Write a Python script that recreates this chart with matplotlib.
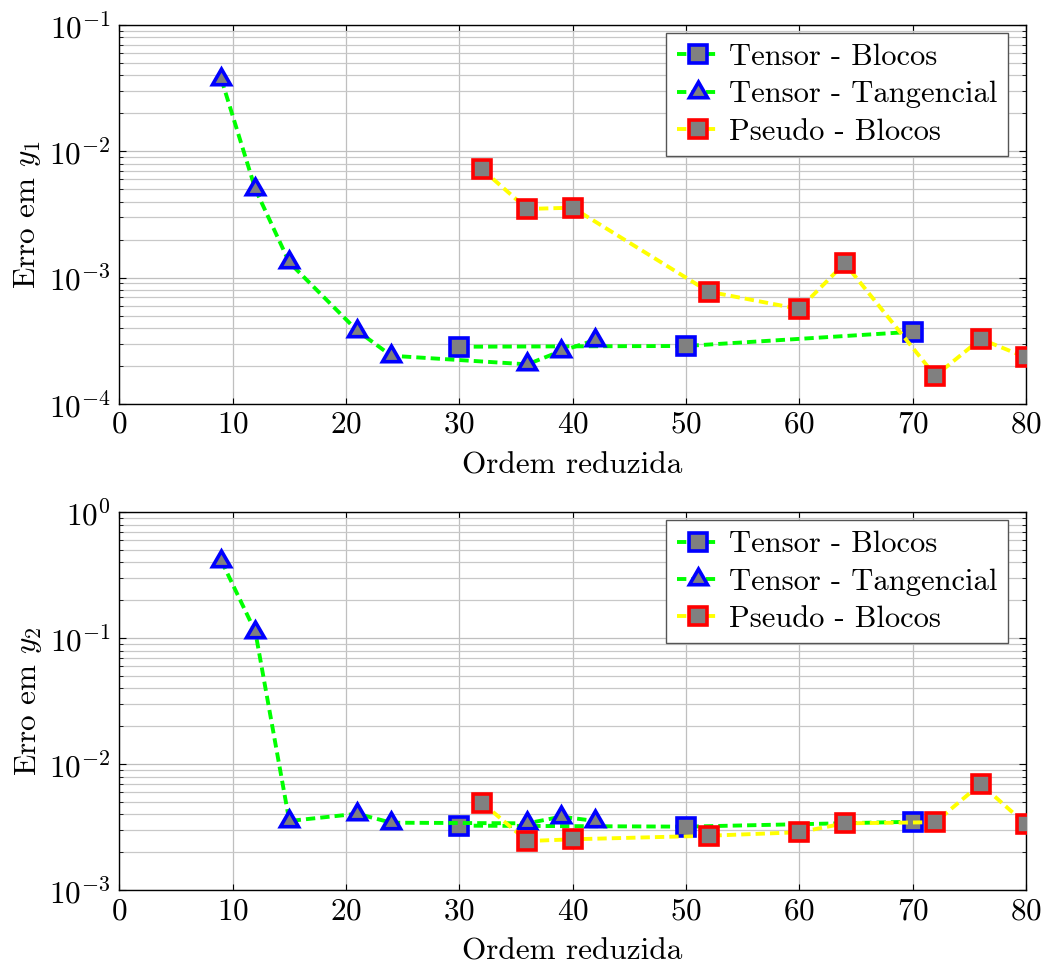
import matplotlib
matplotlib.use("Agg")
import matplotlib.pyplot as plt
import numpy as np

plt.rcParams['font.family'] = 'serif'
plt.rcParams['font.serif'] = ['cmr10', 'DejaVu Serif']
plt.rcParams['mathtext.fontset'] = 'cm'
plt.rcParams['axes.formatter.use_mathtext'] = True
plt.rcParams['axes.unicode_minus'] = False

# ---- data ----
tb_x = [30, 50, 70]
tb_y1 = [2.84e-4, 2.88e-4, 3.73e-4]
tb_y2 = [3.26e-3, 3.20e-3, 3.50e-3]

tt_x = [9, 12, 15, 21, 24, 36, 39, 42]
tt_y1 = [3.74e-2, 5.03e-3, 1.32e-3, 3.8e-4, 2.41e-4, 2.06e-4, 2.63e-4, 3.21e-4]
tt_y2 = [0.413, 0.113, 3.55e-3, 4.05e-3, 3.44e-3, 3.40e-3, 3.84e-3, 3.55e-3]

pb_x = [32, 36, 40, 52, 60, 64, 72, 76, 80]
pb_y1 = [7.21e-3, 3.50e-3, 3.58e-3, 7.75e-4, 5.65e-4, 1.30e-3, 1.67e-4, 3.27e-4, 2.34e-4]
pb_y2 = [4.96e-3, 2.46e-3, 2.54e-3, 2.71e-3, 2.89e-3, 3.40e-3, 3.47e-3, 6.98e-3, 3.34e-3]

labels = ['Tensor - Blocos', 'Tensor - Tangencial', 'Pseudo - Blocos']
xlabel = 'Ordem reduzida'
ylabels = [r'Erro em $y_1$', r'Erro em $y_2$']
ylims = [(1e-4, 1e-1), (1e-3, 1e0)]

fig = plt.figure(figsize=(10.44, 9.67), dpi=100)
left, width = 119.3 / 1044, (1026 - 119.3) / 1044
ax1 = fig.add_axes([left, 1 - 404 / 967, width, (404 - 25) / 967])
ax2 = fig.add_axes([left, 1 - 890.3 / 967, width, (890.3 - 512.3) / 967])

lw = 2.8
dash = (0, (2.4, 1.3))
fs = 22.5
lfs = 22

for ax, tby, tty, pby, yl, lim in [(ax1, tb_y1, tt_y1, pb_y1, ylabels[0], ylims[0]),
                                    (ax2, tb_y2, tt_y2, pb_y2, ylabels[1], ylims[1])]:
    ax.set_yscale('log')
    ax.plot(tb_x, tby, linestyle=dash, color='#00ff00', lw=lw, marker='s', ms=13,
            mfc='#808080', mec='#0000ff', mew=2.6, label=labels[0], zorder=3)
    ax.plot(tt_x, tty, linestyle=dash, color='#00ff00', lw=lw, marker=(3, 0, 0), ms=15,
            mfc='#808080', mec='#0000ff', mew=2.6, label=labels[1], zorder=3)
    ax.plot(pb_x, pby, linestyle=dash, color='#ffff00', lw=lw, marker='s', ms=13,
            mfc='#808080', mec='#ff0000', mew=2.6, label=labels[2], zorder=3)
    ax.set_xlim(0, 80)
    ax.set_ylim(*lim)
    ax.set_xticks(np.arange(0, 81, 10))
    ax.grid(True, which='major', color='#bfbfbf', lw=0.9)
    ax.grid(True, which='minor', axis='y', color='#c8c8c8', lw=0.9)
    ax.set_axisbelow(True)
    ax.tick_params(which='both', direction='in', top=True, right=True, labelsize=fs)
    ax.tick_params(which='major', length=5, width=0.8)
    ax.tick_params(which='minor', length=3, width=0.6)
    ax.tick_params(axis='x', which='major', length=4, pad=5)
    ax.tick_params(axis='y', which='major', pad=6)
    ax.set_xlabel(xlabel, fontsize=fs, labelpad=9)
    ax.set_ylabel(yl, fontsize=fs, labelpad=4)
    for s in ax.spines.values():
        s.set_linewidth(1.0)
    leg = ax.legend(loc='upper right', fontsize=lfs, frameon=True, fancybox=False,
                    edgecolor='#555555', framealpha=1, handlelength=1.4,
                    handletextpad=0.3, borderpad=0.35, labelspacing=0.32,
                    borderaxespad=0, bbox_to_anchor=(0.980, 0.979))
    leg.get_frame().set_linewidth(1.0)

fig.savefig('out.png', dpi=100)
